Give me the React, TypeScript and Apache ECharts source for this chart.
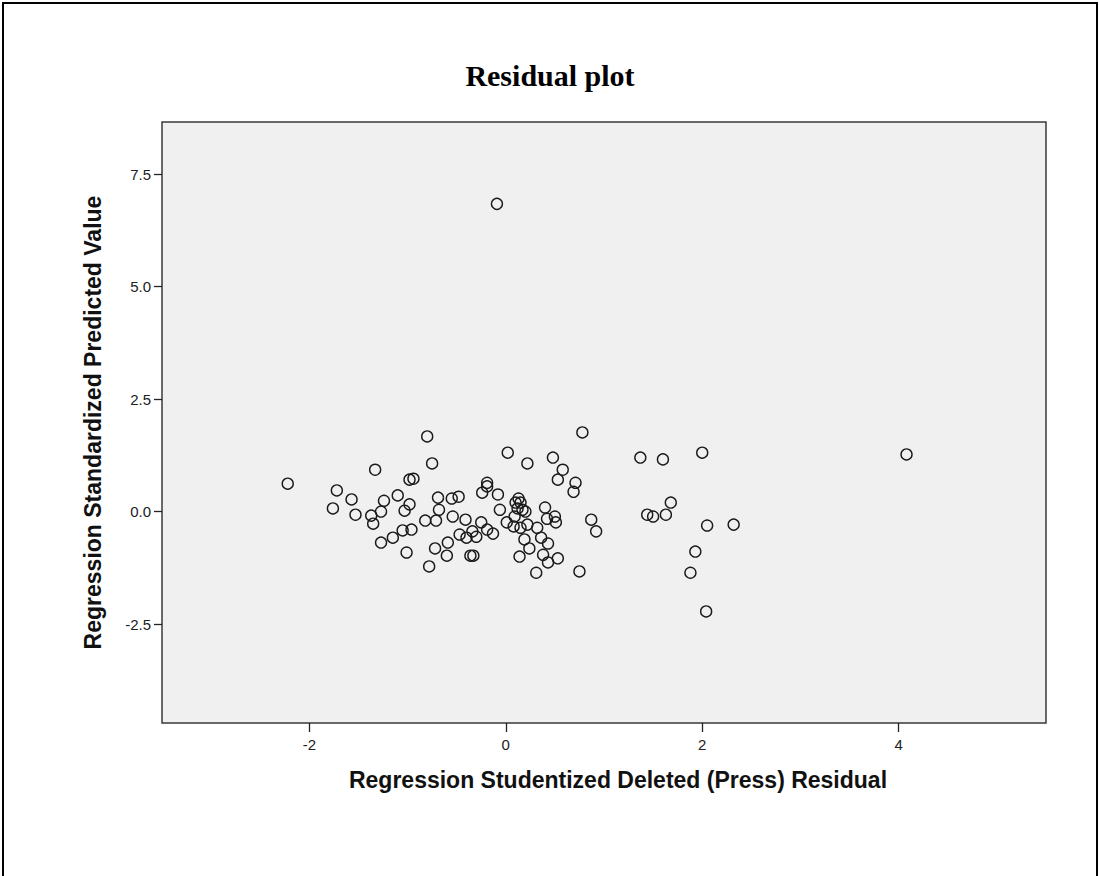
import React, { useEffect, useRef } from "react";
import * as echarts from "echarts";

const chartTitle = "Residual plot";
const xAxisTitle = "Regression Studentized Deleted (Press) Residual";
const yAxisTitle = "Regression Standardized Predicted Value";
const xTicks = [-2, 0, 2, 4];
const yTicks = [-2.5, 0, 2.5, 5, 7.5];

// Studentized deleted residual (x)
const residualX = [
  -0.09, -2.22, -1.33, -1.72, -1.57, -1.76, -1.53, -1.37, -1.35, -1.24,
  -1.27, -1.10, -0.98, -0.94, -0.98, -1.03, -1.27, -1.15, -1.05, -0.96,
  -1.01, -0.80, -0.75, -0.69, -0.55, -0.48, -0.68, -0.82, -0.71, -0.54,
  -0.41, -0.24, -0.19, -0.19, -0.08, -0.06, 0.02, 0.01, -0.47, -0.40,
  -0.34, -0.25, -0.19, -0.13, -0.30, -0.59, -0.72, -0.60, -0.36, -0.33,
  -0.78, 0.78, 0.22, 0.48, 0.58, 0.53, 0.71, 0.69, 0.13, 0.12,
  0.17, 0.09, 0.08, 0.15, 0.22, 0.32, 0.40, 0.42, 0.50, 0.51,
  0.19, 0.36, 0.43, 0.24, 0.14, 0.38, 0.43, 0.53, 0.31, 0.75,
  0.87, 0.92, 1.37, 1.60, 2.00, 1.44, 1.50, 1.63, 1.68, 2.05,
  1.93, 1.88, 2.32, 2.04, 4.08, 0.15, 0.10, 0.20,
];
// Standardized predicted value (y)
const predictedY = [
  6.84, 0.62, 0.93, 0.47, 0.27, 0.07, -0.07, -0.09, -0.27, 0.24,
  0.00, 0.36, 0.71, 0.73, 0.16, 0.02, -0.69, -0.58, -0.42, -0.40,
  -0.91, 1.67, 1.07, 0.31, 0.29, 0.33, 0.04, -0.20, -0.20, -0.11,
  -0.18, 0.42, 0.64, 0.56, 0.38, 0.04, 1.31, -0.24, -0.51, -0.58,
  -0.44, -0.24, -0.40, -0.49, -0.56, -0.69, -0.82, -0.98, -0.98, -0.98,
  -1.22, 1.76, 1.07, 1.20, 0.93, 0.71, 0.64, 0.44, 0.29, 0.07,
  0.04, -0.11, -0.33, -0.36, -0.29, -0.36, 0.09, -0.16, -0.11, -0.24,
  -0.62, -0.58, -0.71, -0.82, -1.00, -0.96, -1.13, -1.04, -1.36, -1.33,
  -0.18, -0.44, 1.20, 1.16, 1.31, -0.07, -0.11, -0.07, 0.20, -0.31,
  -0.89, -1.36, -0.29, -2.22, 1.27, 0.20, 0.20, 0.00,
];

export default function App() {
  const ref = useRef<HTMLDivElement>(null);
  useEffect(() => {
    if (!ref.current) return;
    const chart = echarts.init(ref.current, undefined, { renderer: "svg" });
    const points = residualX.map((x, i) => [x, predictedY[i]]);
    chart.setOption({
      animation: false,
      backgroundColor: "#ffffff",
      title: {
        text: chartTitle,
        left: "center",
        top: 55,
        textStyle: {
          fontFamily: "Liberation Serif",
          fontWeight: "bold",
          fontSize: 30,
          color: "#000",
        },
      },
      graphic: [
        {
          type: "rect",
          shape: { x: 3, y: 3, width: 1094, height: 900 },
          style: { fill: "none", stroke: "#000", lineWidth: 2 },
          silent: true,
        },
      ],
      grid: {
        left: 162,
        top: 122,
        width: 884,
        height: 601,
        show: true,
        backgroundColor: "#f0f0f0",
        borderColor: "#3a3a3a",
        borderWidth: 1.5,
      },
      xAxis: {
        type: "value",
        min: -3.5,
        max: 5.5,
        name: xAxisTitle,
        nameLocation: "middle",
        nameGap: 45,
        nameTextStyle: {
          fontFamily: "Liberation Sans",
          fontWeight: "bold",
          fontSize: 23,
          color: "#111",
          padding: [0, 0, 0, 28],
        },
        axisLine: { show: false, onZero: false },
        splitLine: { show: false },
        axisTick: {
          show: true,
          length: 9,
          customValues: xTicks,
          lineStyle: { color: "#222", width: 1.3 },
        },
        axisLabel: {
          customValues: xTicks,
          fontFamily: "Liberation Sans",
          fontSize: 15,
          color: "#222",
          margin: 14,
        },
      },
      yAxis: {
        type: "value",
        min: -4.7,
        max: 8.66,
        name: yAxisTitle,
        nameLocation: "middle",
        nameRotate: 90,
        nameGap: 58,
        nameTextStyle: {
          fontFamily: "Liberation Sans",
          fontWeight: "bold",
          fontSize: 23,
          color: "#111",
        },
        axisLine: { show: false, onZero: false },
        splitLine: { show: false },
        axisTick: {
          show: true,
          length: 8,
          customValues: yTicks,
          lineStyle: { color: "#222", width: 1.3 },
        },
        axisLabel: {
          customValues: yTicks,
          formatter: (v: number) => v.toFixed(1),
          fontFamily: "Liberation Sans",
          fontSize: 15,
          color: "#222",
          margin: 11,
        },
      },
      series: [
        {
          type: "scatter",
          data: points,
          symbol: "circle",
          symbolSize: 11,
          itemStyle: {
            color: "rgba(0,0,0,0)",
            borderColor: "#1a1a1a",
            borderWidth: 1.4,
            opacity: 1,
          },
        },
      ],
    });
    return () => chart.dispose();
  }, []);
  return (
    <div
      ref={ref}
      style={{ position: "fixed", left: 0, top: 0, width: 1100, height: 876 }}
    />
  );
}
